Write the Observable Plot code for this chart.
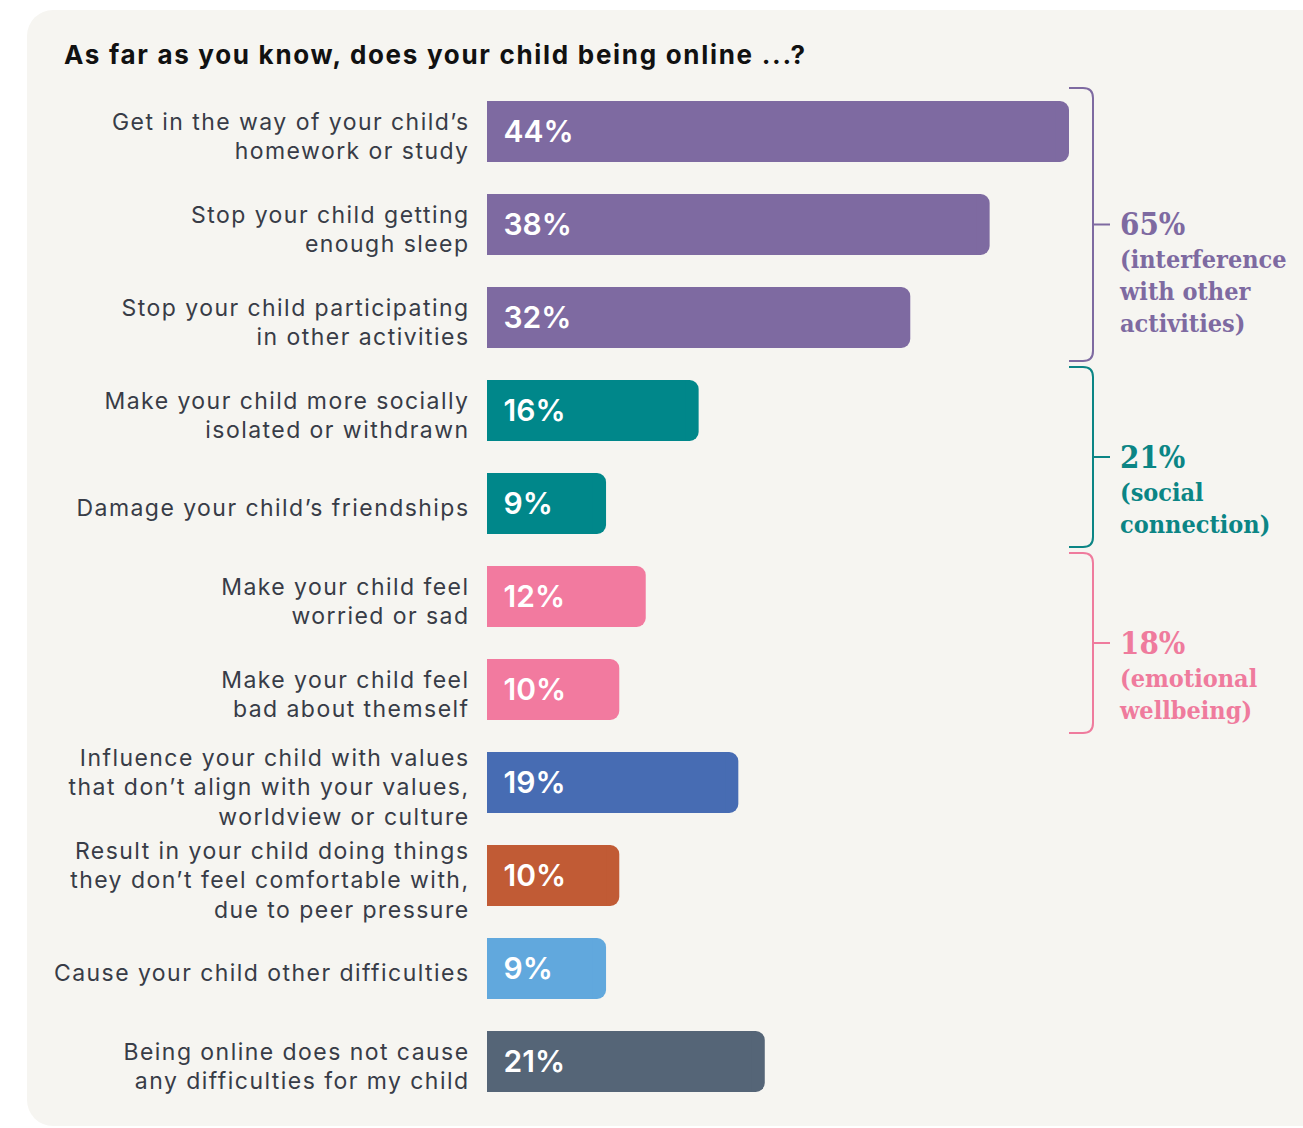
<!DOCTYPE html>
<html><head><meta charset="utf-8">
<script src="https://cdn.jsdelivr.net/npm/d3@7"></script>
<script src="https://cdn.jsdelivr.net/npm/@observablehq/plot@0.6"></script>
<style>
html,body{margin:0;padding:0;background:#fff;}
#wrap{position:relative;width:1303px;height:1128px;overflow:hidden;}
#card{position:absolute;left:27px;top:10px;width:1320px;height:1116px;background:#f6f5f1;border-radius:26px;}
#title{position:absolute;left:64px;top:39px;font-family:Inter,sans-serif;font-weight:700;font-size:26px;letter-spacing:1.7px;color:#111;white-space:nowrap;}
#chart{position:absolute;left:0;top:0;}
</style></head>
<body><div id="wrap"><div id="card"></div><div id="title">As far as you know, does your child being online ...?</div><div id="chart"></div></div>
<script>
const categories = ["homework","sleep","activities","isolated","friendships","worried","bad","values","peer","other","none"];
const labels = [
  "Get in the way of your child’s\nhomework or study",
  "Stop your child getting\nenough sleep",
  "Stop your child participating\nin other activities",
  "Make your child more socially\nisolated or withdrawn",
  "Damage your child’s friendships",
  "Make your child feel\nworried or sad",
  "Make your child feel\nbad about themself",
  "Influence your child with values\nthat don’t align with your values,\nworldview or culture",
  "Result in your child doing things\nthey don’t feel comfortable with,\ndue to peer pressure",
  "Cause your child other difficulties",
  "Being online does not cause\nany difficulties for my child"
];
const values = [44, 38, 32, 16, 9, 12, 10, 19, 10, 9, 21];
const colors = ["#7e6aa1","#7e6aa1","#7e6aa1","#00878a","#00878a","#f27a9f","#f27a9f","#476cb3","#c15b35","#61a8dd","#556577"];

const groupTotals = ["65%","21%","18%"];
const groupLabels = [["(interference","with other","activities)"],["(social","connection)"],["(emotional","wellbeing)"]];
const groupStart = ["homework","isolated","worried"];
const groupEnd = ["activities","friendships","bad"];
const groupColors = ["#7e6aa1","#0b8585","#ef7b9d"];

const data = categories.map((c,i)=>({cat:c,label:labels[i],value:values[i],color:colors[i]}));

const plot = Plot.plot({
  width:1303, height:1128,
  marginTop:0, marginBottom:0, marginLeft:0, marginRight:0,
  style:{background:"transparent", overflow:"visible"},
  x:{domain:[0,d3.max(values)], range:[487,1069], axis:null},
  y:{type:"band", domain:categories, range:[85.4,1108.4], padding:0, axis:null},
  color:{type:"identity"},
  marks:[
    Plot.barX(data,{y:"cat", x:"value", fill:"color", rx:9, insetTop:16, insetBottom:16}),
    Plot.barX(data,{y:"cat", x1:0, x2:d=>d.value-1, fill:"color", insetTop:16, insetBottom:16}),
    Plot.text(data,{y:"cat", x:0, text:d=>d.value+"%", dx:16, textAnchor:"start", fill:"white", fontSize:30, fontWeight:600, fontFamily:"Inter"}),
    Plot.text(data,{y:"cat", x:0, text:"label", dx:-18, dy:3, textAnchor:"end", fill:"#383c47", fontSize:23, lineHeight:1.28, fontFamily:"Inter"})
  ]
});
document.getElementById("chart").appendChild(plot);
// widen the category labels (reference font is wider than Inter)
d3.select(plot).selectAll('g[aria-label="text"]').filter((d,i)=>i===1)
  .selectAll("text").style("letter-spacing","1.45px");

const xs = plot.scale("x"), ys = plot.scale("y");
const bw = ys.bandwidth;
const x0 = xs.apply(d3.max(values));
const xv = x0 + 24, r = 10;
const g = d3.select(plot).append("g");
groupTotals.forEach((t,i)=>{
  const top = ys.apply(groupStart[i]) + 3;
  const bot = ys.apply(groupEnd[i]) + bw - 3;
  const mid = (top+bot)/2;
  const p = d3.path();
  p.moveTo(x0, top); p.lineTo(xv-r, top); p.quadraticCurveTo(xv, top, xv, top+r);
  p.lineTo(xv, bot-r); p.quadraticCurveTo(xv, bot, xv-r, bot); p.lineTo(x0, bot);
  p.moveTo(xv, mid); p.lineTo(xv+17, mid);
  g.append("path").attr("d", p.toString()).attr("fill","none").attr("stroke", groupColors[i]).attr("stroke-width",2);
  const tx = g.append("text").attr("fill", groupColors[i]).attr("text-anchor","start")
    .attr("font-family","'DejaVu Serif Condensed','DejaVu Serif',serif").attr("font-weight",700);
  tx.append("tspan").attr("x", xv+27).attr("y", mid).attr("dy","0.35em").attr("font-size",31).text(t);
  groupLabels[i].forEach((l,k)=>{
    tx.append("tspan").attr("x", xv+27).attr("y", mid+35+32*k).attr("dy","0.35em").attr("font-size",25).text(l);
  });
});
</script>
</body></html>
